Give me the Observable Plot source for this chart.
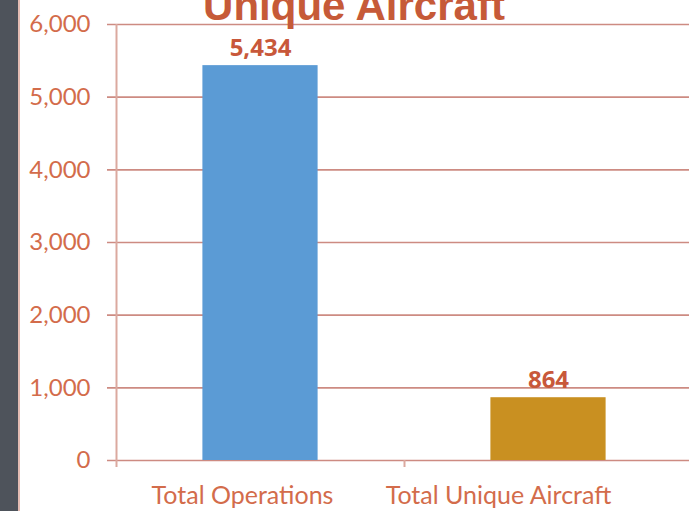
<!DOCTYPE html>
<html>
<head>
<meta charset="utf-8">
<script src="https://cdn.jsdelivr.net/npm/d3@7"></script>
<script src="https://cdn.jsdelivr.net/npm/@observablehq/plot@0.6"></script>
<style>
  html, body { margin: 0; padding: 0; background: #ffffff; }
  #wrap { position: relative; width: 689px; height: 511px; overflow: hidden; }
  #strip { position: absolute; left: 0; top: 0; width: 18px; height: 511px; background: #4e535b; border-right: 2px solid #e4bcb3; }
  #title { position: absolute; left: 354px; top: -14.6px; transform: translateX(-50%); white-space: nowrap;
           font-family: "Liberation Sans", Arial, sans-serif; font-weight: bold; font-size: 42px; line-height: 42px; color: #c65a38; }
  #chart { position: absolute; left: 0; top: 0; }
</style>
</head>
<body>
<div id="wrap">
  <div id="chart"></div>
  <div id="strip"></div>
  <div id="title">Unique Aircraft</div>
</div>
<script>
const categories = ["Total Operations", "Total Unique Aircraft"];
const values = [5434, 864];
const barColors = ["#5b9bd5", "#c99021"];
const yTicks = [0, 1000, 2000, 3000, 4000, 5000, 6000];
const valueLabels = ["5,434", "864"];

const data = categories.map((c, i) => ({category: c, value: values[i], color: barColors[i], label: valueLabels[i], i}));

const gridColor = "#cd8b82";
const axisColor = "#dba99f";
const tickTextColor = "#d36c4b";
const valueTextColor = "#c8583a";

const chart = Plot.plot({
  width: 689,
  height: 511,
  marginLeft: 116,
  marginRight: 0,
  marginTop: 24,
  marginBottom: 51,
  style: {fontFamily: "Lato, sans-serif", background: "transparent", overflow: "visible"},
  x: {type: "linear", domain: [0, categories.length], range: [116, 116 + 288 * categories.length], axis: null},
  y: {domain: [0, 6000], axis: null},
  marks: [
    Plot.ruleY(yTicks, {y: d => d, stroke: gridColor, strokeWidth: 1.6, insetLeft: -9}),
    Plot.ruleX([0], {x: d => d, stroke: axisColor, strokeWidth: 2, insetBottom: -7}),
    Plot.ruleX(d3.range(1, categories.length + 1), {x: d => d, y1: 0, y2: 0, stroke: axisColor, strokeWidth: 2, insetBottom: -7}),
    Plot.rectY(data, {x1: d => d.i + 0.3, x2: d => d.i + 0.7, y1: 0, y2: "value", fill: "color"}),
    Plot.text(data, {x: d => d.i + 0.5, y: "value", text: "label", dy: -10, lineAnchor: "bottom",
      fill: valueTextColor, fontSize: 24, fontWeight: "bold", fontFamily: "Open Sans, sans-serif"}),
    Plot.axisY({ticks: yTicks, tickSize: 0, tickPadding: 26, tickFormat: d3.format(","), fontSize: 24, fill: tickTextColor, label: null}),
    Plot.text(data, {filter: d => d.i === 0, x: d => d.i + 0.5, frameAnchor: "bottom", text: "category", dy: 43, dx: -18, lineAnchor: "bottom",
      fill: tickTextColor, fontSize: 25}),
    Plot.text(data, {filter: d => d.i === 1, x: d => d.i + 0.5, frameAnchor: "bottom", text: "category", dy: 43, dx: -50, lineAnchor: "bottom",
      fill: tickTextColor, fontSize: 25})
  ]
});
document.getElementById("chart").appendChild(chart);
</script>
</body>
</html>
